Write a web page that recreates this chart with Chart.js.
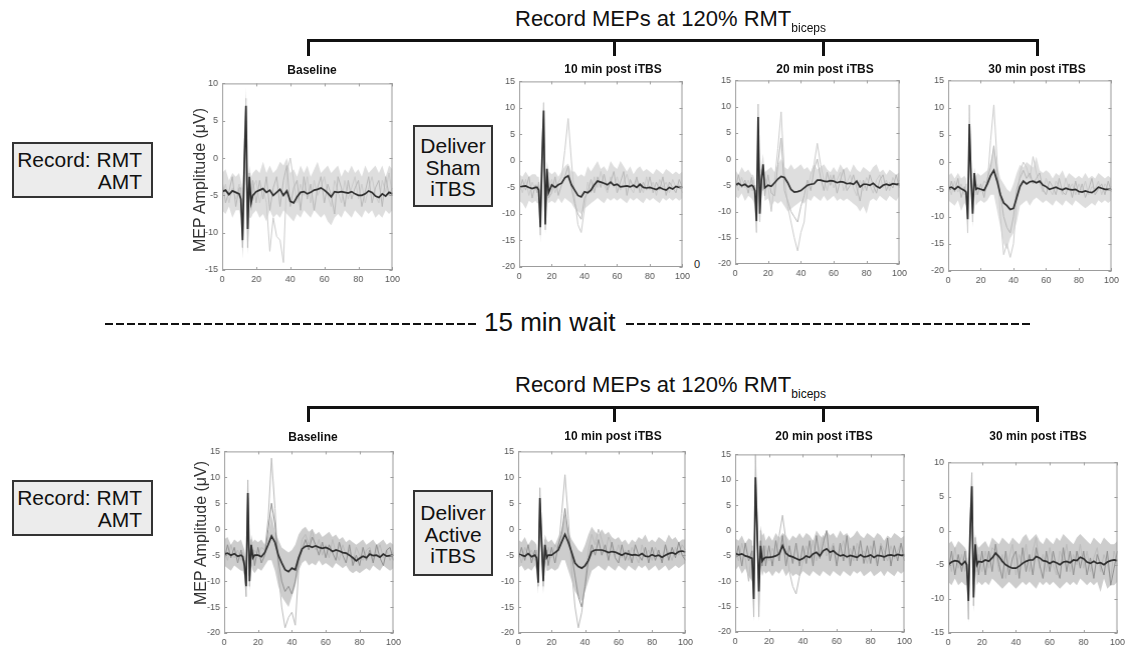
<!DOCTYPE html>
<html>
<head>
<meta charset="utf-8">
<script src="https://cdn.jsdelivr.net/npm/chart.js@4.4.0/dist/chart.umd.min.js"></script>
<style>
  body { margin: 0; background: #fff; }
  #stage { position: relative; width: 1128px; height: 646px; overflow: hidden; font-family: "Liberation Sans", Arial, sans-serif; color: #111; }
  .abs { position: absolute; white-space: nowrap; }
  .bar { position: absolute; background: #111; }
  .box { position: absolute; box-sizing: border-box; border: 2px solid #333; background: #ececec; font-size: 21px; line-height: 22px; white-space: nowrap; }
  .title { position: absolute; font-weight: bold; font-size: 12px; white-space: nowrap; transform: translate(-50%, -50%); }
  .dash { position: absolute; height: 2px; background: repeating-linear-gradient(to right, #111 0 8px, transparent 8px 11px); }
  .ylab { position: absolute; font-size: 16px; color: #333; white-space: nowrap; transform: translate(-50%, -50%) rotate(-90deg); }
</style>
</head>
<body>
<div id="stage"></div>
<script>
// sample times (ms) shared by every trace
const T = [0,2,4,6,8,10, 11,12,13,14,15,16,17,18, 20,22,24,26,28,30,32,34,36,38,
  40,42,44,46,48,50,52,54,56,58, 60,62,64,66,68,70,72,74,76,78, 80,82,84,86,88,90,92,94,96,98,100];

const xTicks = [0, 20, 40, 60, 80, 100];

// ---- Sham session ----
const shamBaseMean = [-4.5,-4.3,-4.9,-4.4,-4.6,-4.8, -5.5,-11,-1,7,-9.5,-2.5,-6,-5,
  -4.5,-4.3,-4.1,-4.6,-4.3,-5.0,-4.6,-4.2,-5.0,-4.4, -5.8,-6.0,-5.2,-4.6,-4.5,-4.8,-4.6,-4.3,-4.2,-4.0,
  -4.3,-4.7,-5.2,-4.5,-4.6,-4.5,-4.6,-4.7,-4.5,-4.8, -5.0,-5.0,-4.8,-4.4,-4.6,-5.1,-5.3,-4.8,-5.1,-4.6,-4.8];
const shamBaseUpper = [-2,-1.5,-3,-2,-2.5,-2, -3,-4,3,9.5,-4,-1,-2.5,-2,
  -1.5,-2,-0.5,-2,-1,-2,-1.5,-0.5,-1,0, -2,-1.5,-2.5,-1,-2,-1,-2.5,-1.5,-0.5,-2,
  -1.5,-1,-2,-1.5,-1,-2.5,-1.5,-2,-1,-2, -1.5,-2.5,-1,-2,-1.5,-1,-2,-1,-2.5,-1,-1.5];
const shamBaseLower = [-7,-7.5,-6.5,-8,-7,-7, -8,-13.5,-9,-3,-13,-8,-8,-7.5,
  -7,-8,-7.5,-8.5,-7,-8,-7.5,-8,-7,-7.5, -8,-8.5,-7.5,-8,-7,-7.5,-8,-7,-7.5,-8,
  -7.5,-8.5,-9,-8,-7.5,-8,-7,-7.5,-8,-7, -7.5,-8,-7,-7.5,-7,-8,-7.5,-8,-7,-7.5,-7];
const shamBaseA = [-5,-3.5,-6,-4,-5.5,-3.5, -6,-9,2,8,-11,-3,-7,-4,
  -3,-6,-4,-6,-12.5,-8,-10.5,-11,-14,-2, 0,-3,-6,-3.5,-5,-2.5,-6,-3,-5,-4,
  -2.5,-5,-6.5,-3,-4.5,-6,-3,-5.5,-4,-2.5, -5.5,-3.5,-6,-4,-2.5,-5,-6,-3,-4.5,-2,-5];
const shamBaseB = [-3,-6,-4.5,-2.5,-6.5,-4, -4,-12,0,5,-12,-2,-6.5,-3,
  -6,-3,-5.5,-2.5,-7,-4,-2.5,-6.5,-3,-1, -6.5,-4,-3,-7,-2.5,-5.5,-3.5,-7,-4,-2.5,
  -6,-3.5,-5,-7.5,-2.5,-4,-6.5,-3,-5.5,-4, -3,-6.5,-4.5,-2.5,-6,-4,-3,-6.5,-2.5,-5,-4];

const sham10Mean = [-5,-4.8,-4.7,-5,-5.2,-5, -5,-5.5,-12.5,0,9.5,-12,-1.5,-6,
  -4.5,-5,-4.5,-4.2,-3.2,-2.8,-4.5,-5.5,-6.5,-6.8, -5.8,-6,-5.5,-4.5,-3.8,-4,-4.2,-4.5,-4,-4.6,
  -4.4,-4.9,-4.8,-4.7,-4.9,-4.6,-5,-4.4,-5,-5.1, -5,-5.2,-5.4,-5,-5.3,-5.5,-5,-5.3,-4.8,-5,-5];
const sham10Upper = [-2.5,-3,-2,-3,-2.5,-2.5, -3,-3,-5,5,11.5,-5,0,-2,
  -2.5,-2,-3,-2,-1,-0.5,-2,-2,-3,-2.5, -3,-1,-2,-1,0,-1.5,-1,-2,0,-1,
  -1.5,0,-1,-2,-1,-2.5,-1.5,-1,-2,-1.5, -2,-2.5,-1.5,-2,-2.5,-1.5,-2,-2.5,-2,-2.5,-2];
const sham10Lower = [-7.5,-8,-9,-7.5,-8,-7.5, -8,-8,-15.5,-6,4,-14,-7,-8,
  -7.5,-8,-7,-8,-7,-7.5,-8,-9,-9.5,-10, -9,-8.5,-8,-7.5,-7,-7.5,-8,-7,-7.5,-7,
  -7.5,-7,-7.5,-8,-7,-7.5,-7,-7.5,-8,-7, -7.5,-7,-7.5,-8,-7,-7.5,-7,-7.5,-7,-7.5,-7];
const sham10A = [-4,-6,-3.5,-6.5,-4,-5.5, -4.5,-6,-14,2,11,-13,-2,-5,
  -3.5,-6,-4,-3,2,8,0,-7,-12,-13.5, -9,-4,-6,-3,-5,-2,-4.5,-6,-3,-5,
  -3,-5.5,-4,-2.5,-5,-6,-3.5,-4.5,-6,-3, -5.5,-4,-6.5,-3.5,-5,-4,-6,-3.5,-5,-4.5,-6];
const sham10B = [-6,-3.5,-5.5,-3,-7,-4.5, -6,-4,-11,-2,8,-11,-4,-7,
  -6,-3,-6.5,-4.5,-3,-1,-5,-8,-10,-11, -7,-6,-3.5,-6,-3,-5,-2.5,-5.5,-4,-2,
  -6,-4,-2,-6.5,-3.5,-5,-3,-6,-4,-5.5, -3,-6,-4,-5.5,-3,-6.5,-4,-5,-6,-3.5,-5];

const sham20Mean = [-5,-4.6,-5.1,-4.8,-5.3,-5, -5.2,-6,-11.8,8,-10.4,-4,-1,-5.5,
  -5,-5.2,-4.5,-3.8,-3.3,-3.5,-4.5,-5.8,-6.3,-6.2, -6,-5.5,-5,-4.8,-4.7,-4,-4,-4.2,-4.3,-4.1,
  -4.2,-4.5,-4.3,-4.4,-4.7,-4.6,-4.8,-4.2,-5.3,-4.8, -4.8,-5,-4.6,-5.2,-5.5,-5,-4.8,-5,-4.7,-4.8,-4.7];
const sham20Upper = [-2,-3,-1.5,-2.5,-2,-3, -3,-4,-9,10.5,-6,-1,1,-2.5,
  -2,-1.5,-2.5,-1,0,-1.5,-2,-1,-2,-1.5, -1,-2,-1.5,-2.5,-1,-2,-1.5,-1,-2,-2.5,
  -1.5,-2.5,-1,-2,-1.5,-2.5,-1,-2,-2.5,-1.5, -2,-2.5,-1.5,-1,-2.5,-2,-3,-2,-2.5,-3,-2.5];
const sham20Lower = [-7,-7.5,-6.5,-8,-7,-7.5, -8,-9,-14.5,4,-12,-7,-5,-8,
  -7.5,-9,-8,-8.5,-8,-9,-10,-9.5,-9,-8.5, -8,-8.5,-7.5,-8,-7,-7.5,-8,-7,-8,-7.5,
  -7,-8,-7.5,-8,-7.5,-8,-8.5,-9,-10,-9, -10.4,-8,-7.5,-8,-7,-7.5,-8,-7,-7.5,-8,-7];
const sham20A = [-4,-6,-3.5,-5.5,-4,-6, -4,-8,-14,10.5,-12,-2,-6,-3.5,
  -5,-10,-4,2,9,-3,-9,-12,-15,-17.5, -14,-12,-6,-3,-1,3,-1,-4,-6,-3,
  -5.5,-4,-2.5,-6,-4.5,-3,-5.5,-7,-4,-6, -3.5,-5,-6.5,-4,-3,-5.5,-4,-6,-3.5,-5,-4];
const sham20B = [-6,-3,-5.5,-4,-6.5,-3.5, -6,-5,-12,6,-9,-3,-2,-7,
  -3,-6.5,-7,-1,4,-6,-8,-10,-11,-12, -9,-7,-4,-6,-2,0,-3.5,-6,-2.5,-5,
  -3,-6.5,-4,-2,-6,-5,-3,-5.5,-8,-4, -6,-3,-5,-6.5,-4,-3,-6,-4.5,-5.5,-3,-5.5];

const sham30Mean = [-4.8,-4.6,-5,-4.5,-4.9,-5.2, -5.5,-10.5,7,-3,-9.5,-2,-5,-4.8,
  -5,-5.2,-4,-2.5,-1.5,-3.5,-6,-7.5,-8,-8.7, -8.5,-6.5,-4.5,-3.5,-4,-3.6,-3.5,-3.8,-3.5,-4.2,
  -4.5,-5,-4.8,-4.6,-4.9,-5.1,-4.8,-5,-5.1,-5, -5.4,-5.5,-5.3,-5.5,-5.6,-5.2,-4.6,-4.8,-5,-5,-5];
const sham30Upper = [-2.5,-2,-3,-2,-3,-2.5, -3,-8,10.5,0,-5,-1,-2.5,-2,
  -2.5,-2,-1.5,0,3,-0.5,-3,-4,-5,-5.5, -4,-2,-0.5,-1,0,-0.5,-1,1,-1.5,-2,
  -1.5,-2,-3,-2,-2.5,-1.5,-3,-2,-2.5,-3, -2.5,-3,-2,-3,-2.5,-3,-2,-2.5,-3,-2.5,-3];
const sham30Lower = [-7,-7.5,-8,-7,-9,-7.5, -8,-13.5,4,-6,-12,-6,-8,-7.5,
  -7,-7.5,-7,-6,-6,-9,-12,-15,-16,-14, -13,-11,-8,-7.5,-7,-8,-7,-6.5,-7,-7.5,
  -7,-7.5,-8,-7,-7.5,-8,-7,-7.5,-8,-7, -7.5,-8,-8.5,-8,-7.5,-8,-7,-7.5,-7,-7.5,-7];
const sham30A = [-4,-6,-3.5,-5.5,-4,-6, -4,-13,10.5,-1,-11,-2,-6,-4,
  -5.5,-3.5,-4,4,10.5,0,-10,-17,-15,-17.5, -15,-7,-2,0,-1,-3,1,-2,-4,-5.5,
  -3,-5,-6,-3.5,-4.5,-6,-3,-5,-4,-6, -4,-5.5,-3.5,-6,-4.5,-5,-3.5,-6,-4,-5,-4.5];
const sham30B = [-6,-3.5,-5.5,-3,-6.5,-4.5, -6,-9,5,-2,-8,-3,-4,-6,
  -4,-6.5,-3,-1,3,-2,-6,-10,-12,-13, -10,-5,-3,-1.5,-3,-2,-4,-3,-2,-5,
  -6,-3.5,-4.5,-6,-3,-5.5,-6,-4,-6.5,-3.5, -6,-4,-6.5,-5,-3,-6,-5,-4,-6,-3.5,-5.5];

// ---- Active session ----
const activeBaseMean = [-4.8,-4.6,-5,-4.7,-5.2,-5, -5.3,-7,-11,7,-10,-3,-5.5,-5,
  -5,-5.3,-4.5,-3,-1.3,-2.5,-5,-6.5,-7.8,-8.2, -7.5,-7.8,-5.5,-3.8,-3.3,-3.2,-3.5,-3.2,-3.5,-3.7,
  -3.5,-3.8,-4.3,-4,-4.2,-4.5,-4.6,-5,-5.5,-6.1, -5.6,-5.2,-5.5,-4.8,-5.1,-5,-5.4,-4.8,-5.2,-5.1,-5];
const activeBaseUpper = [-2,-1.5,-3,-2,-2.5,-2, -3,-4,-6,9.5,-5,-1,-2.5,-2,
  -2.5,-2,-3,-1,3,-0.5,-2,-3.5,-4,-4.5, -4,-3,-1,0,0.5,-0.5,0,-1,-0.5,-1.5,
  -1,-0.5,-1.5,-1,-2,-1.5,-2.5,-2,-2.5,-3, -2.5,-2,-3,-2.5,-2,-3,-2.5,-2,-3,-2.5,-3];
const activeBaseLower = [-7,-7.5,-8,-7,-7.5,-8, -8,-9,-13,5,-12,-7,-8,-8.5,
  -7.5,-8,-7,-6,-6,-8,-11,-13,-14,-15, -13,-11,-8,-6.5,-6,-7,-6.5,-7,-6,-7,
  -6.5,-7,-7.5,-6.5,-7,-7.5,-7,-8,-8.5,-8, -8.5,-8,-7.5,-8,-7,-7.5,-8,-7,-7.5,-8,-7.5];
const activeBaseA = [-4,-6,-3,-5.5,-4,-6, -4.5,-8,-13,9.5,-11,-2,-6,-4,
  -5,-3.5,-4,2,13.7,4,-8,-15,-19,-17, -16,-18.5,-8,-2,-1,-3,0,-4,-2,-5,
  -3,-5.5,-2,-4.5,-6,-3,-5,-4,-6.5,-3.5, -5,-6,-4,-3.5,-6,-4.5,-3,-5.5,-4,-6,-4.5];
const activeBaseB = [-6,-3,-5.5,-3.5,-6.5,-4, -6,-6,-10,6,-9,-4,-4,-7,
  -3.5,-6.5,-5,0,5,1,-6,-10,-12,-11, -12.5,-10,-6,-4,-2,-4,-1.5,-3,-5,-2.5,
  -5.5,-3,-4.5,-6,-2.5,-5,-6.5,-3,-7,-5, -7,-3.5,-6,-4,-6.5,-3,-5.5,-7,-4,-3.5,-6];

const active10Mean = [-4.8,-5,-5.2,-4.7,-5.3,-5, -5.5,-10.3,6,-2,-10,-3,-5.5,-5,
  -5,-4.5,-4,-2.5,-1,-2.5,-4.5,-6.5,-7.2,-7.5, -7,-6,-4.3,-4,-4,-4,-4.2,-4.5,-4.3,-4.4,
  -4.7,-5,-4.6,-4.8,-5,-4.9,-5.1,-4.7,-5.2,-5.3, -4.9,-5.2,-5,-5.4,-5,-4.7,-4.5,-4.8,-4.3,-4.2,-4.4];
const active10Upper = [-2,-2.5,-1.5,-3,-2,-2.5, -3,-7,8,0,-5,-1,-2,-2.5,
  -2,-3,-1.5,0,3,-0.5,-2,-3,-4,-4.5, -3,-1,0.5,-0.5,-1,0,-1,-0.5,-1.5,-2,
  -1.5,-2.5,-2,-3,-2,-2.5,-1.5,-2,-1,-2.5, -2,-2.5,-1.5,-2,-2.5,-1,-2,-1.5,-2.5,-2,-2];
const active10Lower = [-7.5,-7,-8,-7.5,-8,-7, -8,-12.5,3,-6,-12.5,-6,-8,-8,
  -7.5,-8,-7.5,-6,-6,-8,-10,-12,-13,-14, -12,-10,-8,-7.5,-7,-7.5,-8,-7,-7.5,-8,
  -7,-7.5,-8,-7,-7.5,-8,-7,-7.5,-7,-8, -7.5,-7,-8,-7.5,-7,-8,-7.5,-7,-7.5,-7,-6.5];
const active10A = [-4,-6.5,-3.5,-5,-4,-6, -4,-11,8,-1,-11,-2,-6,-3.5,
  -5.5,-3,-4,3,10.5,2,-8,-15,-19,-16, -10,-4,-1,-3,0,-2,-4.5,-1.5,-3,-5,
  -3,-5.5,-4,-6,-3.5,-5,-6.5,-3,-5,-4, -6,-3.5,-5,-6,-3,-4.5,-6,-3.5,-5,-3,-4];
const active10B = [-6,-3.5,-6,-3,-6.5,-4, -6,-9,5,-3,-9,-4,-4,-7,
  -3.5,-6.5,-3,-1,4,-1,-5,-9,-13,-15, -11,-6,-3,-5,-2,-5,-3,-6,-2.5,-5.5,
  -6.5,-3,-6,-4,-6.5,-3,-5,-6,-3.5,-6.5, -3.5,-6,-4,-6.5,-3,-6,-3.5,-5.5,-2.5,-5,-6];

const active20Mean = [-4.5,-4.8,-4.6,-5,-5.2,-5.5, -13.5,10.5,0,-12,-3,-6,-5.5,-5.3,
  -5.3,-5.2,-5,-4.6,-3,-4.5,-5,-5.2,-5.5,-5.8, -5.5,-5,-5.3,-4.6,-4.3,-5,-4,-3.6,-4.3,-4,
  -4.6,-5,-4.8,-5.2,-4.9,-5.1,-5.3,-4.8,-5.2,-5.1, -4.8,-5.3,-4.9,-5,-5.2,-4.9,-4.8,-5,-4.7,-4.9,-4.8];
const active20Upper = [-1.5,-2,-1,-2.5,-1.5,-2, -10,15,5,-8,1,-1,-0.5,-2,
  -1,-2,-0.5,-1.5,-0.5,-1,-2,-1,-1.5,-0.5, -1.5,-0.5,-1,-2,0,-1,-1.5,0,-1,-0.5,
  -1.5,0,-1,-0.5,-1.5,-1,0,-1,-1.5,-0.5, -1,-1.5,-0.5,-1,-2,-1,-1.5,-0.5,-1,-1.5,-1];
const active20Lower = [-8,-7,-8.5,-7.5,-9,-10, -18,6,-4,-18,-7,-9,-8,-8.5,
  -8,-9,-8,-8.5,-7.5,-9,-8,-9,-8.5,-9, -8,-8.5,-9,-8,-8.5,-9,-8,-8.5,-9,-8,
  -8.5,-9,-8,-8.5,-9,-8,-8.5,-8,-9,-8.5, -8,-9,-8.5,-8,-9,-8,-8.5,-9,-8,-8.5,-8];
const active20A = [-4,-6,-2.5,-5.5,-10,-3, -17,15,2,-17,0,-4,-6,-3,
  -6,-3.5,-5,-1,3,-2,-8,-11,-12.5,-9, -6,-3,-5,-2,-6,-3.5,-1,-5,-4,-2.5,
  -6,-4,-2,-5.5,-3.5,-6,-2.5,-5,-4,-6.5, -3,-5,-6.5,-2.5,-4,-6,-3,-5.5,-4,-2.5,-5];
const active20B = [-6,-3,-7,-2.5,-6,-4, -12,9,0,-11,-2,-7,-3,-7,
  -3,-7,-2,-6,-1,-7,-3,-6.5,-2.5,-7, -3,-6.5,-2,-7,-1,-5.5,-2.5,0,-6,-3,
  -7,-2.5,-6,-1,-7,-3,-6,-2,-6.5,-3, -6.5,-2,-7,-3,-6,-1.5,-7,-3,-6,-2.5,-6];

const active30Mean = [-5,-4.6,-4.4,-4.5,-5,-4.5, -5,-10.3,0,6.5,-9.8,-2,-5,-4.5,
  -4.6,-4.3,-4.5,-4,-3.3,-3.8,-4.5,-5,-5.3,-5.5, -5.5,-5.2,-4.8,-4.5,-4.3,-4.3,-3.8,-4,-4.4,-4.5,
  -4.8,-4.5,-4.7,-5,-4.6,-4.5,-4.7,-4.3,-4.4,-3.9, -4.1,-4.6,-4.8,-4.5,-4.8,-4.7,-5,-4.6,-4.4,-4.3,-4.4];
const active30Upper = [-2,-1.5,-2.5,-1.5,-2,-2.5, -3,-6,3,8.5,-4,-0.5,-2,-2.5,
  -2,-1.5,-2.5,-1,-1.5,-2,-1,-1.5,-2,-1, -1.5,-2,-1,-0.5,-1.5,-1,-0.5,-1.5,-2,-1,
  -1.5,-2,-1,-1.5,-0.5,-1,-1.5,-2,-1,-0.5, -1,-1.5,-2,-1,-1.5,-2,-1,-1.5,-2,-2,-1.5];
const active30Lower = [-7.5,-8,-7,-8,-7.5,-8, -8,-13.5,-4,3,-12,-6,-8,-7.5,
  -8,-7.5,-8,-7,-7.5,-8,-8.5,-8,-7.5,-8, -8.5,-8,-7.5,-8,-7.5,-8,-8.5,-7.5,-8,-7.5,
  -8,-7.5,-8,-8.5,-8,-7.5,-8,-7.5,-8,-7, -7.5,-8,-7.5,-8,-7.5,-9,-7,-8.5,-8,-8,-7.5];
const active30A = [-4,-6,-2.5,-5.5,-3.5,-6, -4,-13,2,8.5,-11,-1,-6,-3.5,
  -6,-3,-5.5,-2.5,-3,-6,-3.5,-7,-4,-2, -6.5,-3.5,-5,-2,-6,-3,-1,-5.5,-3.5,-6,
  -2.5,-5,-6.5,-3,-4.5,-2,-6,-3.5,-5,-2, -5.5,-3,-6,-4,-2.5,-6,-3.5,-5,-7,-3,-5];
const active30B = [-6,-3,-6.5,-3.5,-6,-3, -6,-9,-1,5,-8,-3,-4,-6.5,
  -3,-6.5,-3,-6,-2,-5,-7,-3,-6.5,-4, -3,-7,-2.5,-6,-3.5,-6.5,-2.5,-5,-7,-3,
  -6,-3,-5.5,-7,-2.5,-6,-3,-6.5,-3,-5.5, -3,-6.5,-4,-7,-3.5,-5,-6.5,-3,-8,-5.5,-3];

// panel layout: plot box [left, top, right, bottom] in page pixels
const panels = [
  { title: 'Baseline',         box: [222, 83, 392, 270],  yMin: -15, yMax: 10, tc: [312, 70], row: 'sham',
    mean: shamBaseMean, upper: shamBaseUpper, lower: shamBaseLower, a: shamBaseA, b: shamBaseB },
  { title: '10 min post iTBS', box: [519, 81, 682, 267],  yMin: -20, yMax: 15, tc: [613, 69], row: 'sham',
    mean: sham10Mean, upper: sham10Upper, lower: sham10Lower, a: sham10A, b: sham10B },
  { title: '20 min post iTBS', box: [735, 80, 899, 264],  yMin: -20, yMax: 15, tc: [825, 69], row: 'sham',
    mean: sham20Mean, upper: sham20Upper, lower: sham20Lower, a: sham20A, b: sham20B },
  { title: '30 min post iTBS', box: [948, 80, 1111, 271], yMin: -20, yMax: 15, tc: [1037, 69], row: 'sham',
    mean: sham30Mean, upper: sham30Upper, lower: sham30Lower, a: sham30A, b: sham30B },
  { title: 'Baseline',         box: [224, 451, 393, 633], yMin: -20, yMax: 15, tc: [313, 437], row: 'active',
    mean: activeBaseMean, upper: activeBaseUpper, lower: activeBaseLower, a: activeBaseA, b: activeBaseB },
  { title: '10 min post iTBS', box: [518, 451, 685, 633], yMin: -20, yMax: 15, tc: [613, 436], row: 'active',
    mean: active10Mean, upper: active10Upper, lower: active10Lower, a: active10A, b: active10B },
  { title: '20 min post iTBS', box: [735, 454, 904, 632], yMin: -20, yMax: 15, tc: [824, 436], row: 'active',
    mean: active20Mean, upper: active20Upper, lower: active20Lower, a: active20A, b: active20B },
  { title: '30 min post iTBS', box: [948, 462, 1117, 633], yMin: -15, yMax: 10, tc: [1038, 436], row: 'active',
    mean: active30Mean, upper: active30Upper, lower: active30Lower, a: active30A, b: active30B }
];

const palette = {
  sham:   { band: '#dedede', a: '#cbcbcb', b: '#b8b8b8', mean: '#2e2e2e' },
  active: { band: '#cdcdcd', a: '#bbbbbb', b: '#909090', mean: '#2e2e2e' }
};

const stage = document.getElementById('stage');

function addEl(cls, style, html) {
  const d = document.createElement('div');
  d.className = cls;
  Object.assign(d.style, style);
  if (html) d.innerHTML = html;
  stage.appendChild(d);
  return d;
}

// MATLAB style box with inward ticks
const boxPlugin = {
  id: 'box',
  afterDraw(chart) {
    const { ctx, chartArea: a, scales: { x, y } } = chart;
    ctx.save();
    ctx.strokeStyle = '#9c9c9c';
    ctx.lineWidth = 1;
    ctx.strokeRect(a.left + 0.5, a.top + 0.5, a.width - 1, a.height - 1);
    ctx.beginPath();
    x.ticks.forEach(t => {
      const px = Math.round(x.getPixelForValue(t.value)) + 0.5;
      ctx.moveTo(px, a.bottom); ctx.lineTo(px, a.bottom - 3);
      ctx.moveTo(px, a.top); ctx.lineTo(px, a.top + 3);
    });
    y.ticks.forEach(t => {
      const py = Math.round(y.getPixelForValue(t.value)) + 0.5;
      ctx.moveTo(a.left, py); ctx.lineTo(a.left + 3, py);
      ctx.moveTo(a.right, py); ctx.lineTo(a.right - 3, py);
    });
    ctx.stroke();
    ctx.restore();
  }
};

function pts(arr) {
  return T.map((t, i) => ({ x: t, y: arr[i] }));
}

function buildChart(p, W, H) {
  const wrap = document.createElement('div');
  wrap.style.position = 'absolute';
  const cv = document.createElement('canvas');
  cv.width = W; cv.height = H;
  cv.style.width = W + 'px'; cv.style.height = H + 'px';
  wrap.appendChild(cv);
  stage.appendChild(wrap);
  const c = palette[p.row];
  const tickFont = { family: '"Liberation Sans", Arial, sans-serif', size: 9 };
  const chart = new Chart(cv, {
    type: 'line',
    data: {
      datasets: [
        { data: pts(p.upper), borderWidth: 0, borderColor: 'rgba(0,0,0,0)', fill: false, order: 5 },
        { data: pts(p.lower), borderWidth: 0, borderColor: 'rgba(0,0,0,0)', fill: 0, backgroundColor: c.band, order: 4 },
        { data: pts(p.a), borderWidth: 1, borderColor: c.a, fill: false, order: 3 },
        { data: pts(p.b), borderWidth: 1, borderColor: c.b, fill: false, order: 2 },
        { data: pts(p.mean), borderWidth: 1.7, borderColor: c.mean, fill: false, order: 1 }
      ]
    },
    options: {
      responsive: false,
      animation: false,
      devicePixelRatio: 1,
      elements: { point: { radius: 0 }, line: { tension: 0 } },
      layout: { padding: { top: 8, right: 6, left: 2, bottom: 2 } },
      plugins: { legend: { display: false }, tooltip: { enabled: false } },
      scales: {
        x: {
          type: 'linear', min: 0, max: 100,
          afterBuildTicks: s => { s.ticks = xTicks.map(v => ({ value: v })); },
          afterFit: s => { s.height = 16; },
          grid: { display: false, drawTicks: false },
          border: { display: false },
          ticks: { font: tickFont, color: '#555', padding: 4, maxRotation: 0 }
        },
        y: {
          min: p.yMin, max: p.yMax,
          ticks: { stepSize: 5, font: tickFont, color: '#555', padding: 4 },
          afterFit: s => { s.width = 26; },
          grid: { display: false, drawTicks: false },
          border: { display: false }
        }
      }
    },
    plugins: [boxPlugin]
  });
  return { chart, wrap };
}

function makePanel(p) {
  const bw = p.box[2] - p.box[0], bh = p.box[3] - p.box[1];
  let W = bw + 40, H = bh + 30;
  let r = buildChart(p, W, H);
  let a = r.chart.chartArea;
  W += bw - (a.right - a.left);
  H += bh - (a.bottom - a.top);
  r.chart.destroy(); r.wrap.remove();
  r = buildChart(p, W, H);
  a = r.chart.chartArea;
  r.wrap.style.left = (p.box[0] - a.left) + 'px';
  r.wrap.style.top = (p.box[1] - a.top) + 'px';
  addEl('title', { left: p.tc[0] + 'px', top: p.tc[1] + 'px' }, p.title);
}

panels.forEach(makePanel);

// y axis labels on the baseline panels
addEl('ylab', { left: '200px', top: '180px' }, 'MEP Amplitude (&mu;V)');
addEl('ylab', { left: '201px', top: '533px' }, 'MEP Amplitude (&mu;V)');

// headers and brackets
const header = 'Record MEPs at 120% RMT<span style="font-size:12px;position:relative;top:6px">biceps</span>';
addEl('abs', { left: '515px', top: '6px', fontSize: '22px' }, header);
addEl('abs', { left: '515px', top: '372px', fontSize: '22px' }, header);
[[39, 56], [406, 422]].forEach(([y0, y1]) => {
  addEl('bar', { left: '307px', top: y0 + 'px', width: '732px', height: '3px' });
  [307, 613, 822, 1036].forEach(x => addEl('bar', { left: x + 'px', top: y0 + 'px', width: '3px', height: (y1 - y0) + 'px' }));
});

// 15 min wait separator
addEl('dash', { left: '105px', top: '323px', width: '374px' });
addEl('abs', { left: '484px', top: '307px', fontSize: '26px' }, '15 min wait');
addEl('dash', { left: '626px', top: '323px', width: '405px' });

// left boxes
addEl('box', { left: '12px', top: '142px', width: '141px', height: '56px', textAlign: 'right', padding: '5px 9px 0 0' }, 'Record: RMT<br>AMT');
addEl('box', { left: '12px', top: '480px', width: '141px', height: '56px', textAlign: 'right', padding: '5px 9px 0 0' }, 'Record: RMT<br>AMT');
addEl('box', { left: '413px', top: '125px', width: '80px', height: '82px', textAlign: 'center', paddingTop: '8px', lineHeight: '21.5px' }, 'Deliver<br>Sham<br>iTBS');
addEl('box', { left: '413px', top: '490px', width: '80px', height: '86px', textAlign: 'center', paddingTop: '10px', lineHeight: '21.5px' }, 'Deliver<br>Active<br>iTBS');

// stray label in the source figure
addEl('abs', { left: '694px', top: '258px', fontSize: '11px', color: '#222' }, '0');
</script>
</body>
</html>
